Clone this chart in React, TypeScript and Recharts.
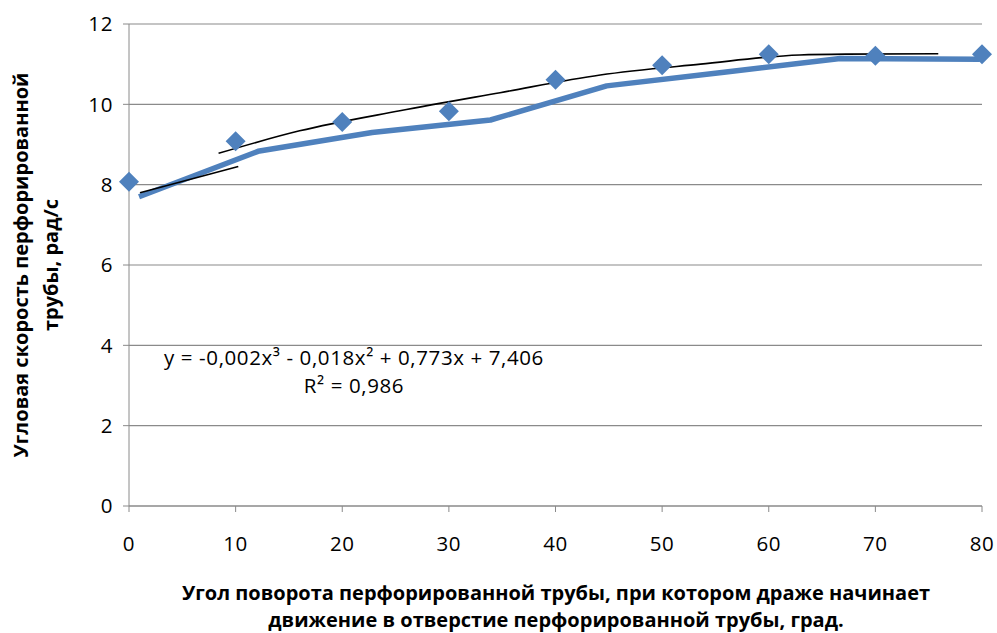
import React from "react";
import { ComposedChart, Line, Scatter, XAxis, YAxis, CartesianGrid } from "recharts";

const angleTicks = [0, 10, 20, 30, 40, 50, 60, 70, 80];
const speedTicks = [0, 2, 4, 6, 8, 10, 12];

// experimental points (diamonds)
const measuredAngle = [0, 10, 20, 30, 40, 50, 60, 70, 80];
const measuredSpeed = [8.07, 9.08, 9.56, 9.83, 10.61, 10.97, 11.25, 11.21, 11.25];

// calculated curve (thick blue line)
const modelAngle = [0.94, 12.1, 22.8, 33.9, 44.8, 55.8, 66.7, 79.8];
const modelSpeed = [7.7, 8.83, 9.3, 9.61, 10.46, 10.8, 11.14, 11.12];

// polynomial trendline (thin black)
const trendAngle = [8.4, 16.0, 25.4, 34.8, 44.2, 53.6, 62.9, 67.3, 75.9];
const trendSpeed = [8.78, 9.34, 9.84, 10.29, 10.73, 11.0, 11.23, 11.25, 11.26];

// short trend segment at the start
const startAngle = [1.03, 10.25];
const startSpeed = [7.8, 8.45];

const zip = (xs: number[], ys: number[]) => xs.map((x, i) => ({ x, y: ys[i] }));

const measured = zip(measuredAngle, measuredSpeed);
const model = zip(modelAngle, modelSpeed);
const trend = zip(trendAngle, trendSpeed);
const start = zip(startAngle, startSpeed);

const BLUE = "#4F81BD";
const GRID = "#8a8a8a";
const FONT = "'Open Sans', sans-serif";

const Diamond = (props: any) => {
  const { cx, cy } = props;
  if (cx == null || cy == null) return null;
  const r = 10;
  return <polygon points={`${cx},${cy - r} ${cx + r},${cy} ${cx},${cy + r} ${cx - r},${cy}`} fill={BLUE} />;
};

const titleStyle: React.CSSProperties = {
  position: "absolute",
  fontFamily: FONT,
  fontWeight: 700,
  fontSize: 20,
  textAlign: "center",
  color: "#000",
  whiteSpace: "nowrap",
};

const tickFont = { fill: "#000", fontFamily: FONT, fontSize: 20.5, letterSpacing: 0.6 };

export default function App() {
  return (
    <div style={{ position: "absolute", left: 0, top: 0, width: 997, height: 633, background: "#fff", overflow: "hidden" }}>
      <ComposedChart width={997} height={633} margin={{ top: 24, right: 15, bottom: 0, left: 0 }}>
        <CartesianGrid vertical={false} stroke={GRID} strokeWidth={1.2} />
        <XAxis
          type="number"
          dataKey="x"
          domain={[0, 80]}
          ticks={angleTicks}
          height={127}
          stroke={GRID}
          tickSize={6}
          tickMargin={24}
          tick={tickFont}
          allowDuplicatedCategory={false}
        />
        <YAxis
          type="number"
          dataKey="y"
          domain={[0, 12]}
          ticks={speedTicks}
          width={129}
          stroke={GRID}
          tickSize={6}
          tickMargin={10}
          tick={tickFont}
        />
        <Line data={model} dataKey="y" type="linear" stroke={BLUE} strokeWidth={5.5} strokeLinejoin="round" dot={false} isAnimationActive={false} />
        <Line data={start} dataKey="y" type="linear" stroke="#000" strokeWidth={1.6} dot={false} isAnimationActive={false} />
        <Line data={trend} dataKey="y" type="monotone" stroke="#000" strokeWidth={1.6} dot={false} isAnimationActive={false} />
        <Scatter data={measured} dataKey="y" shape={<Diamond />} isAnimationActive={false} />
      </ComposedChart>

      <div style={{ position: "absolute", left: 154, top: 343, width: 400, textAlign: "center", fontFamily: FONT, fontSize: 20.5, letterSpacing: 0.6, lineHeight: "28px", whiteSpace: "nowrap" }}>
        <div>y = -0,002x³ - 0,018x² + 0,773x + 7,406</div>
        <div>R² = 0,986</div>
      </div>

      <div style={{ ...titleStyle, left: 556, top: 581, lineHeight: "24px", transform: "translateX(-50%)" }}>
        <div>Угол поворота перфорированной трубы, при котором драже начинает</div>
        <div style={{ marginTop: 3 }}>движение в отверстие перфорированной трубы, град.</div>
      </div>

      <div style={{ ...titleStyle, left: 36, top: 265, lineHeight: "30px", transform: "translate(-50%, -50%) rotate(-90deg)" }}>
        <div>Угловая скорость перфорированной</div>
        <div>трубы, рад/с</div>
      </div>
    </div>
  );
}
